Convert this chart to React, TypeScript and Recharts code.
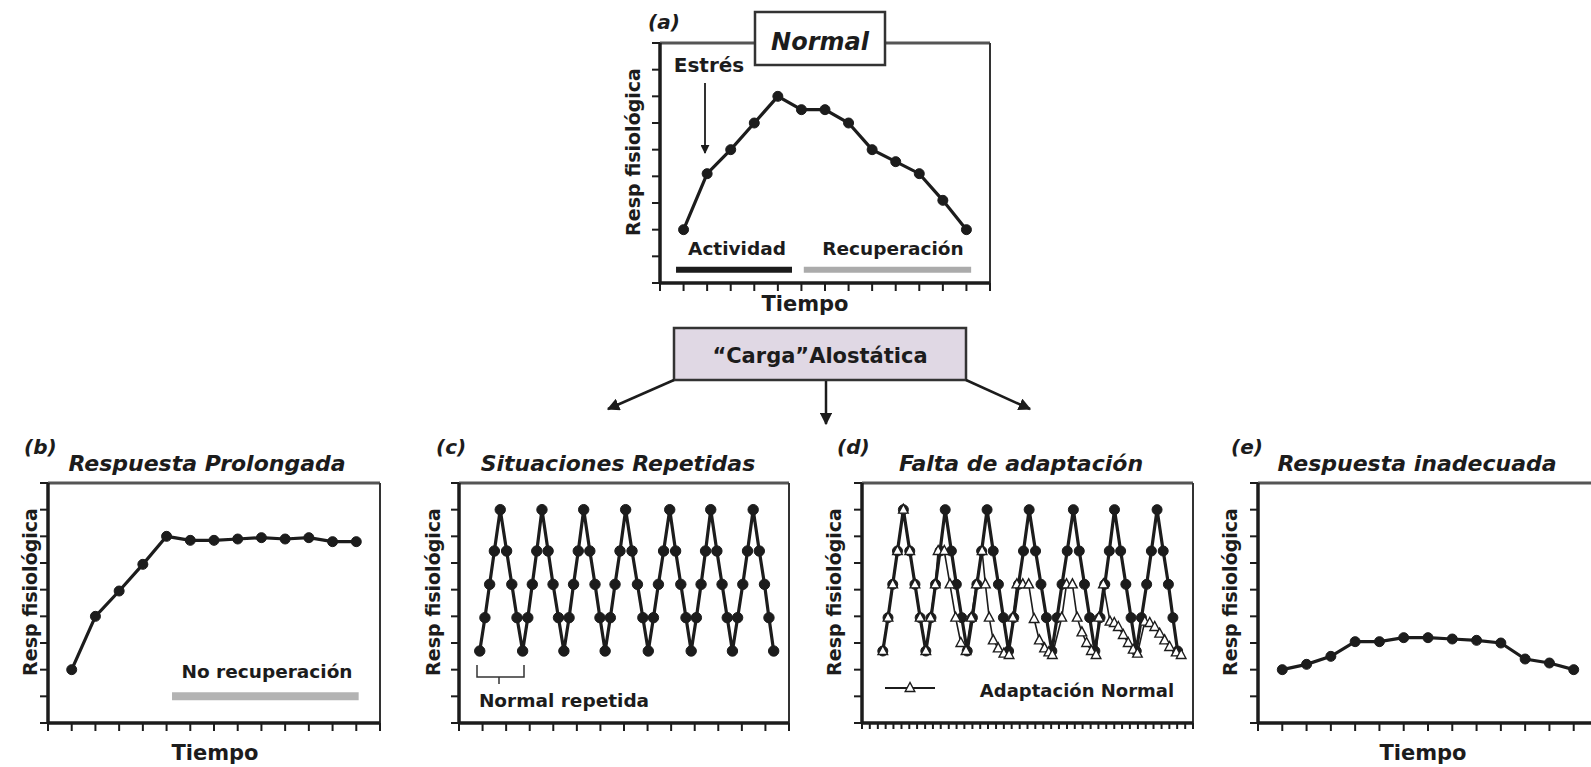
import React from "react";
import { Line, LineChart, ReferenceLine, XAxis, YAxis } from "recharts";

// time points shared by panels a, b and e
const timeX = [1, 2, 3, 4, 5, 6, 7, 8, 9, 10, 11, 12, 13];
const normalY = [2, 4.1, 5, 6, 7, 6.5, 6.5, 6, 5, 4.55, 4.1, 3.1, 2];
const prolongedY = [2, 4, 4.95, 5.95, 7, 6.85, 6.85, 6.9, 6.95, 6.9, 6.95, 6.8, 6.8];
const inadequateY = [2, 2.2, 2.5, 3.05, 3.05, 3.2, 3.2, 3.15, 3.1, 3, 2.4, 2.25, 2];

// repeated normal responses (panel c, and filled series of panel d)
const repeatedX = [
  0.88, 1.1, 1.3, 1.5, 1.75, 2.02, 2.24, 2.46, 2.7,
  2.92, 3.11, 3.3, 3.52, 3.78, 3.99, 4.22, 4.45,
  4.67, 4.86, 5.06, 5.29, 5.55, 5.77, 5.98, 6.2,
  6.42, 6.62, 6.83, 7.07, 7.34, 7.57, 7.8, 8.03,
  8.25, 8.46, 8.68, 8.94, 9.19, 9.41, 9.63, 9.85,
  10.07, 10.27, 10.46, 10.68, 10.94, 11.16, 11.38, 11.6,
  11.82, 12.04, 12.24, 12.48, 12.74, 12.96, 13.15, 13.35,
];
const repeatedY = [
  2.7, 3.95, 5.2, 6.45, 8, 6.45, 5.2, 3.95, 2.7,
  3.95, 5.2, 6.45, 8, 6.45, 5.2, 3.95, 2.7,
  3.95, 5.2, 6.45, 8, 6.45, 5.2, 3.95, 2.7,
  3.95, 5.2, 6.45, 8, 6.45, 5.2, 3.95, 2.7,
  3.95, 5.2, 6.45, 8, 6.45, 5.2, 3.95, 2.7,
  3.95, 5.2, 6.45, 8, 6.45, 5.2, 3.95, 2.7,
  3.95, 5.2, 6.45, 8, 6.45, 5.2, 3.95, 2.7,
];
const troughPairs = [
  [2.46, 2.92],
  [4.22, 4.67],
  [5.98, 6.42],
  [7.8, 8.25],
  [9.63, 10.07],
  [11.38, 11.82],
];
const troughLevel = 3.95;

// normal adaptation (open triangles, panel d)
const adaptX = [
  0.88, 1.1, 1.3, 1.5, 1.75, 2.02, 2.24, 2.46, 2.7,
  2.9, 3.1, 3.22, 3.48, 3.72, 3.96, 4.18, 4.4,
  4.62, 4.84, 5.08, 5.22, 5.38, 5.55, 5.76, 6.0, 6.22,
  6.38, 6.55, 6.8, 7.05, 7.28, 7.5, 7.72, 7.9, 8.05,
  8.45, 8.65, 8.9, 9.1, 9.3, 9.5, 9.7, 9.9,
  10.02, 10.21, 10.49, 10.67, 10.84, 11.05, 11.26, 11.47, 11.65,
  11.96, 12.17, 12.38, 12.59, 12.8, 13.01, 13.29, 13.5,
];
const adaptY = [
  2.7, 3.95, 5.2, 6.45, 8, 6.45, 5.2, 3.95, 2.7,
  3.95, 5.2, 6.45, 6.45, 5.2, 3.95, 3.0, 2.7,
  3.95, 5.2, 6.45, 5.2, 3.95, 3.1, 2.8, 2.6, 2.55,
  3.95, 5.2, 5.2, 5.2, 3.9, 3.1, 2.8, 2.65, 2.55,
  3.95, 5.2, 5.2, 3.95, 3.4, 3.0, 2.7, 2.55,
  3.95, 5.2, 3.8, 3.75, 3.6, 3.3, 3.0, 2.75, 2.6,
  3.8, 3.75, 3.6, 3.35, 3.1, 2.85, 2.65, 2.55,
];

const xTicks = [0, 1, 2, 3, 4, 5, 6, 7, 8, 9, 10, 11, 12, 13, 14];
const yTicks = [0, 1, 2, 3, 4, 5, 6, 7, 8, 9];
const fineTicks = [
  0, 0.33, 0.67, 1, 1.33, 1.67, 2, 2.33, 2.67, 3, 3.33, 3.67, 4, 4.33, 4.67,
  5, 5.33, 5.67, 6, 6.33, 6.67, 7, 7.33, 7.67, 8, 8.33, 8.67, 9, 9.33, 9.67,
  10, 10.33, 10.67, 11, 11.33, 11.67, 12, 12.33, 12.67, 13, 13.33, 13.67, 14,
];

const INK = "#1c1c1c";
const FONT = "'DejaVu Sans', sans-serif";
const PLOT_H = 240;

function zip(xs: number[], ys: number[]) {
  return xs.map((x, i) => ({ x, y: ys[i] }));
}

const noLabel = () => "";

function TriangleDot(props: any) {
  const { cx, cy } = props;
  if (cx == null || cy == null) return null;
  return (
    <polygon
      points={`${cx},${cy - 5.5} ${cx - 4.8},${cy + 3.5} ${cx + 4.8},${cy + 3.5}`}
      fill="#fff"
      stroke={INK}
      strokeWidth={1.4}
    />
  );
}

interface PanelProps {
  left: number;
  top: number;
  width?: number;
  ticks?: number[];
  tickSize?: number;
  children?: React.ReactNode;
}

function Panel({ left, top, width = 330, ticks = xTicks, tickSize = 8, children }: PanelProps) {
  return (
    <div style={{ position: "absolute", left: left - 30, top: top - 10 }}>
      <LineChart
        width={width + 40}
        height={PLOT_H + 30}
        margin={{ top: 10, right: 10, bottom: 0, left: 0 }}
      >
        <XAxis
          type="number"
          dataKey="x"
          domain={[0, 14]}
          ticks={ticks}
          tickFormatter={noLabel}
          tick={{ fontSize: 1, fill: "none" }}
          tickSize={tickSize}
          height={20}
          allowDataOverflow
          interval={0}
          axisLine={{ stroke: INK, strokeWidth: 3.5 }}
          tickLine={{ stroke: INK, strokeWidth: 2 }}
        />
        <YAxis
          type="number"
          domain={[0, 9]}
          ticks={yTicks}
          tickFormatter={noLabel}
          tick={{ fontSize: 1, fill: "none" }}
          tickSize={8}
          width={30}
          allowDataOverflow
          interval={0}
          axisLine={{ stroke: INK, strokeWidth: 3.5 }}
          tickLine={{ stroke: INK, strokeWidth: 2 }}
        />
        <ReferenceLine y={9} stroke="#555" strokeWidth={3} />
        <ReferenceLine x={14} stroke="#333" strokeWidth={2} />
        {children}
      </LineChart>
    </div>
  );
}

function simpleLine(xs: number[], ys: number[], r = 5) {
  return (
    <Line
      data={zip(xs, ys)}
      dataKey="y"
      stroke={INK}
      strokeWidth={3.2}
      dot={{ r, fill: INK, stroke: INK, strokeWidth: 1 }}
      isAnimationActive={false}
    />
  );
}

export default function App() {
  const title = { fontFamily: FONT, fontWeight: "bold", fontStyle: "italic", fill: INK } as const;
  const label = { fontFamily: FONT, fontWeight: "bold", fill: INK } as const;
  const yLabels = [
    [640, 152],
    [37, 592],
    [440, 592],
    [841, 592],
    [1237, 592],
  ];
  return (
    <div
      style={{
        position: "absolute",
        left: 0,
        top: 0,
        width: 1591,
        height: 767,
        overflow: "hidden",
        background: "#fff",
      }}
    >
      {/* (a) Normal */}
      <Panel left={660} top={43}>
        <ReferenceLine segment={[{ x: 0.68, y: 0.5 }, { x: 5.6, y: 0.5 }]} stroke={INK} strokeWidth={6} />
        <ReferenceLine segment={[{ x: 6.1, y: 0.5 }, { x: 13.2, y: 0.5 }]} stroke="#ababab" strokeWidth={6} />
        {simpleLine(timeX, normalY)}
      </Panel>

      {/* (b) Respuesta Prolongada */}
      <Panel left={48} top={483} width={332}>
        <ReferenceLine segment={[{ x: 5.23, y: 1 }, { x: 13.1, y: 1 }]} stroke="#b3b3b3" strokeWidth={8} />
        {simpleLine(timeX, prolongedY)}
      </Panel>

      {/* (c) Situaciones Repetidas */}
      <Panel left={459} top={483}>
        {troughPairs.map((pair, i) => (
          <Line
            key={i}
            data={pair.map((x) => ({ x, y: troughLevel }))}
            dataKey="y"
            stroke={INK}
            strokeWidth={2.2}
            dot={false}
            isAnimationActive={false}
          />
        ))}
        {simpleLine(repeatedX, repeatedY, 5.2)}
      </Panel>

      {/* (d) Falta de adaptación */}
      <Panel left={862} top={483} width={331} ticks={fineTicks} tickSize={6}>
        {simpleLine(repeatedX, repeatedY, 5)}
        <Line
          data={zip(adaptX, adaptY)}
          dataKey="y"
          stroke={INK}
          strokeWidth={1.6}
          dot={<TriangleDot />}
          isAnimationActive={false}
        />
      </Panel>

      {/* (e) Respuesta inadecuada */}
      <Panel left={1258} top={483} width={340}>
        {simpleLine(timeX, inadequateY)}
      </Panel>

      <svg
        width={1591}
        height={767}
        style={{ position: "absolute", left: 0, top: 0, pointerEvents: "none" }}
      >
        <defs>
          <marker id="head" viewBox="0 0 10 10" refX="9" refY="5" markerWidth="5" markerHeight="5" orient="auto">
            <path d="M0,0 L10,5 L0,10 z" fill={INK} />
          </marker>
        </defs>

        {/* Normal title box */}
        <rect x={755} y={12} width={130} height={53} fill="#fff" stroke="#333" strokeWidth={2.5} />
        <text x={820} y={50} textAnchor="middle" fontSize={24} {...title}>Normal</text>
        <text x={648} y={29} fontSize={20} {...title}>(a)</text>

        <text x={709} y={72} textAnchor="middle" fontSize={20} {...label}>Estrés</text>
        <line x1={705} y1={83} x2={705} y2={153} stroke={INK} strokeWidth={1.8} markerEnd="url(#head)" />
        <text x={737} y={255} textAnchor="middle" fontSize={18.5} {...label}>Actividad</text>
        <text x={893} y={255} textAnchor="middle" fontSize={18.5} {...label}>Recuperación</text>
        <text x={805} y={311} textAnchor="middle" fontSize={21} {...label}>Tiempo</text>

        {/* Carga alostática box and arrows */}
        <rect x={674} y={328} width={292} height={52} fill="#e0d8e4" stroke="#333" strokeWidth={2.5} />
        <text x={820} y={363} textAnchor="middle" fontSize={21} {...label}>“Carga”Alostática</text>
        <line x1={674} y1={380} x2={608} y2={409} stroke={INK} strokeWidth={2.5} markerEnd="url(#head)" />
        <line x1={826} y1={381} x2={826} y2={424} stroke={INK} strokeWidth={2.5} markerEnd="url(#head)" />
        <line x1={966} y1={380} x2={1030} y2={409} stroke={INK} strokeWidth={2.5} markerEnd="url(#head)" />

        {/* bottom panel titles */}
        <text x={24} y={454} fontSize={20} {...title}>(b)</text>
        <text x={207} y={471} textAnchor="middle" fontSize={22} {...title}>Respuesta Prolongada</text>
        <text x={436} y={454} fontSize={20} {...title}>(c)</text>
        <text x={618} y={471} textAnchor="middle" fontSize={22} {...title}>Situaciones Repetidas</text>
        <text x={837} y={454} fontSize={20} {...title}>(d)</text>
        <text x={1021} y={471} textAnchor="middle" fontSize={22} {...title}>Falta de adaptación</text>
        <text x={1231} y={454} fontSize={20} {...title}>(e)</text>
        <text x={1417} y={471} textAnchor="middle" fontSize={22} {...title}>Respuesta inadecuada</text>

        {yLabels.map(([bx, cy], i) => (
          <text
            key={i}
            transform={`translate(${bx}, ${cy}) rotate(-90)`}
            textAnchor="middle"
            fontSize={19}
            {...label}
          >
            Resp fisiológica
          </text>
        ))}

        <text x={267} y={678} textAnchor="middle" fontSize={18.5} {...label}>No recuperación</text>
        <text x={215} y={760} textAnchor="middle" fontSize={21} {...label}>Tiempo</text>

        <path d="M477,665 L477,677 L524,677 L524,665 M499,677 L499,684" fill="none" stroke="#333" strokeWidth={1.5} />
        <text x={564} y={707} textAnchor="middle" fontSize={18.5} {...label}>Normal repetida</text>

        <line x1={885} y1={688} x2={935} y2={688} stroke={INK} strokeWidth={1.8} />
        <TriangleDot cx={910} cy={688} />
        <text x={1077} y={697} textAnchor="middle" fontSize={18} {...label}>Adaptación Normal</text>

        <text x={1423} y={760} textAnchor="middle" fontSize={21} {...label}>Tiempo</text>
      </svg>
    </div>
  );
}
